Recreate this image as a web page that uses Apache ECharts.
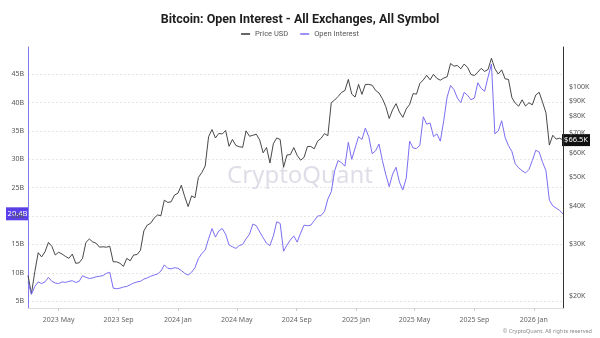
<!DOCTYPE html>
<html>
<head>
<meta charset="utf-8">
<script src="https://cdn.jsdelivr.net/npm/echarts@6/dist/echarts.min.js"></script>
<style>
  html, body { margin: 0; padding: 0; background: #ffffff; }
  #chart { width: 600px; height: 338px; }
</style>
</head>
<body>
<div id="chart"></div>
<script>
// Weekly samples, first one on this date
const startDate = '2023-02-27';
const stepDays = 7;

// Bitcoin price, thousands of USD (right log axis)
const priceK = [
  23.5, 20.4, 24.2, 28.0, 27.1, 28.2, 30.3, 29.4, 27.5, 28.1,
  27.7, 27.2, 26.8, 27.7, 25.8, 25.9, 26.8, 30.3, 31.1, 30.4,
  30.1, 29.2, 29.3, 29.2, 29.4, 26.1, 26.1, 25.8, 25.2, 26.8,
  26.3, 27.5, 27.6, 28.5, 33.1, 34.6, 35.1, 36.5, 37.4, 37.2,
  41.9, 41.2, 41.4, 43.6, 44.2, 47.0, 43.0, 39.9, 43.3, 42.7,
  49.9, 51.8, 54.5, 68.3, 72.1, 67.6, 70.0, 69.7, 71.6, 63.4,
  66.8, 63.8, 63.2, 62.9, 71.4, 68.5, 69.0, 69.6, 66.5, 60.3,
  62.8, 55.8, 64.7, 67.6, 66.8, 54.0, 59.3, 59.5, 62.8, 59.1,
  57.0, 58.2, 63.3, 63.3, 62.2, 66.0, 67.4, 69.9, 68.8, 88.7,
  90.5, 93.0, 95.9, 97.4, 106.0, 94.7, 92.6, 102.0, 94.5, 102.0,
  102.0, 101.4, 97.4, 95.5, 91.4, 86.0, 78.5, 84.0, 88.0, 82.5,
  79.2, 84.5, 87.5, 95.0, 94.7, 102.8, 105.6, 109.4, 105.7, 110.2,
  106.8, 105.4, 107.1, 108.2, 119.8, 117.4, 118.0, 115.0, 119.3, 116.2,
  110.1, 109.2, 112.1, 115.4, 112.7, 114.4, 124.7, 115.2, 110.5, 114.1,
  106.5, 106.0, 92.2, 88.3, 86.3, 90.6, 86.4, 88.6, 87.2, 94.0,
  96.0, 89.0, 82.0, 64.0, 69.0, 67.0, 67.5, 66.5
];

// Open interest across all exchanges, billions of USD (left axis)
const openInterestB = [
  8.4, 6.2, 7.6, 8.4, 8.1, 8.4, 9.2, 8.5, 8.2, 8.1,
  8.4, 8.3, 8.5, 8.6, 8.3, 8.5, 9.5, 9.2, 9.0, 9.1,
  9.3, 9.4, 9.5, 9.9, 10.1, 7.3, 7.2, 7.3, 7.5, 7.6,
  7.9, 8.2, 8.4, 8.5, 8.9, 9.1, 9.4, 9.6, 9.8, 10.3,
  11.4, 10.8, 10.7, 10.9, 10.8, 10.4, 9.9, 9.6, 10.1, 10.9,
  12.5, 13.4, 14.0, 16.0, 17.8, 16.3, 17.4, 17.8, 16.8, 14.9,
  14.6, 14.3, 14.8, 15.0, 16.0, 16.8, 18.6, 18.3, 17.2, 16.2,
  15.2, 14.8, 16.5, 19.0, 18.7, 13.8, 14.9, 15.8, 16.5, 15.4,
  17.0, 18.4, 18.3, 18.4, 19.2, 20.0, 20.1, 20.8, 23.0, 24.3,
  28.0, 29.8, 29.4, 28.8, 33.0, 30.0, 32.0, 34.0, 33.5, 35.5,
  34.0, 31.0, 31.5, 32.7, 29.8, 27.3, 25.2, 27.4, 28.6, 26.0,
  24.6, 26.7, 33.2, 32.0, 31.9, 32.5, 37.5, 36.2, 36.4, 34.0,
  34.5, 33.2, 36.8, 41.0, 43.0, 42.3, 40.8, 40.0, 41.8, 41.3,
  40.5, 40.8, 43.5, 42.5, 42.0, 44.5, 46.8, 34.5, 35.0, 36.8,
  33.9, 32.4, 31.4, 29.2, 28.5, 28.0, 27.6, 28.2, 29.8, 31.6,
  31.3, 29.5, 28.0, 22.8, 21.8, 21.4, 21.0, 20.4
];

// Axis tick values
const oiTicks = [5, 10, 15, 20, 25, 30, 35, 40, 45];
const priceTicks = [20, 30, 40, 50, 60, 70, 80, 90, 100];
const dateTicks = ['2023-05-01', '2023-09-01', '2024-01-01', '2024-05-01', '2024-09-01',
                   '2025-01-01', '2025-05-01', '2025-09-01', '2026-01-01'];
const monthNames = ['Jan', 'Feb', 'Mar', 'Apr', 'May', 'Jun', 'Jul', 'Aug', 'Sep', 'Oct', 'Nov', 'Dec'];

const DAY = 86400000;
const t0 = Date.parse(startDate + 'T00:00:00Z');
const times = priceK.map((_, i) => t0 + i * stepDays * DAY);
const priceData = priceK.map((v, i) => [times[i], v]);
const oiData = openInterestB.map((v, i) => [times[i], v]);
const dateTickTimes = dateTicks.map(d => Date.parse(d + 'T00:00:00Z'));

const FONT = '"Noto Sans", sans-serif';
const TITLE_FONT = 'Roboto, "Noto Sans", sans-serif';
const PRICE_COLOR = '#333333';
const OI_COLOR = '#7b6ef2';

const chart = echarts.init(document.getElementById('chart'), null, { renderer: 'canvas' });

chart.setOption({
  animation: false,
  backgroundColor: '#ffffff',
  title: {
    text: 'Bitcoin: Open Interest - All Exchanges, All Symbol',
    left: 'center',
    top: 8,
    textStyle: { fontFamily: TITLE_FONT, fontSize: 12.5, fontWeight: 'bold', color: '#1e1e1e' }
  },
  legend: {
    top: 25,
    left: 'center',
    itemWidth: 9,
    itemHeight: 1.5,
    itemGap: 12,
    icon: 'rect',
    textStyle: { fontFamily: TITLE_FONT, fontSize: 7.5, color: '#555' },
    data: ['Price USD', 'Open Interest']
  },
  grid: { left: 28, right: 37, top: 47, bottom: 30, containLabel: false },
  xAxis: {
    // dates as UTC timestamps on a linear scale
    type: 'value',
    min: times[0],
    max: times[times.length - 1],
    axisLine: { lineStyle: { color: '#dddddd' } },
    axisTick: { show: true, length: 3, lineStyle: { color: '#cccccc' }, customValues: dateTickTimes },
    axisLabel: {
      customValues: dateTickTimes,
      fontFamily: FONT, fontSize: 7, color: '#666', margin: 8,
      formatter: v => { const d = new Date(v); return d.getUTCFullYear() + ' ' + monthNames[d.getUTCMonth()]; }
    },
    splitLine: { show: false }
  },
  yAxis: [
    {
      type: 'value',
      position: 'left',
      min: 3.8,
      max: 49.8,
      axisLine: { show: true, lineStyle: { color: '#8479f0', width: 1 } },
      axisTick: { show: false, customValues: oiTicks },
      axisLabel: {
        customValues: oiTicks,
        fontFamily: FONT, fontSize: 7, color: '#555', margin: 4,
        formatter: v => v + 'B'
      },
      splitLine: { show: true, lineStyle: { color: '#e6e6e6', type: [2, 2], width: 1 } }
    },
    {
      type: 'log',
      position: 'right',
      min: 18.3,
      max: 136,
      axisLine: { show: true, lineStyle: { color: '#333333', width: 1 } },
      axisTick: { show: false, customValues: priceTicks },
      axisLabel: {
        customValues: priceTicks,
        fontFamily: FONT, fontSize: 7, color: '#555', margin: 6,
        formatter: v => '$' + v + 'K'
      },
      splitLine: { show: false }
    }
  ],
  series: [
    {
      name: 'Price USD',
      type: 'line',
      yAxisIndex: 1,
      data: priceData,
      showSymbol: false,
      color: PRICE_COLOR,
      lineStyle: { width: 0.9, color: PRICE_COLOR },
      z: 3
    },
    {
      name: 'Open Interest',
      type: 'line',
      yAxisIndex: 0,
      data: oiData,
      showSymbol: false,
      color: OI_COLOR,
      lineStyle: { width: 1, color: OI_COLOR },
      z: 4
    }
  ]
});

// Latest-value tags on both axes, placed through the axis scales
const lastOI = openInterestB[openInterestB.length - 1];
const lastPrice = priceK[priceK.length - 1];
const yOI = chart.convertToPixel({ yAxisIndex: 0 }, lastOI);
const yPrice = chart.convertToPixel({ yAxisIndex: 1 }, lastPrice);

chart.setOption({
  graphic: [
    {
      type: 'text',
      left: 'center',
      top: 164,
      z: 0,
      silent: true,
      style: { text: 'CryptoQuant', font: '400 24px "Noto Sans", sans-serif', fill: 'rgba(200,200,216,0.6)' }
    },
    {
      type: 'group',
      z: 100,
      children: [
        { type: 'rect', shape: { x: 6, y: yOI - 6.5, width: 23, height: 13 }, style: { fill: '#5a40e8' } },
        { type: 'text', x: 17.5, y: yOI, style: { text: lastOI + 'B', font: '7.5px "Noto Sans", sans-serif', fill: '#ffffff', align: 'center', verticalAlign: 'middle' } },
        { type: 'rect', shape: { x: 562, y: yPrice - 6, width: 28, height: 12 }, style: { fill: '#111111' } },
        { type: 'text', x: 576, y: yPrice, style: { text: '$' + lastPrice + 'K', font: '7.5px "Noto Sans", sans-serif', fill: '#ffffff', align: 'center', verticalAlign: 'middle' } }
      ]
    },
    {
      type: 'text',
      right: 8,
      top: 328,
      silent: true,
      style: { text: '\u00A9 CryptoQuant. All rights reserved', font: '5.5px "Noto Sans", sans-serif', fill: '#888' }
    }
  ]
});
</script>
</body>
</html>
